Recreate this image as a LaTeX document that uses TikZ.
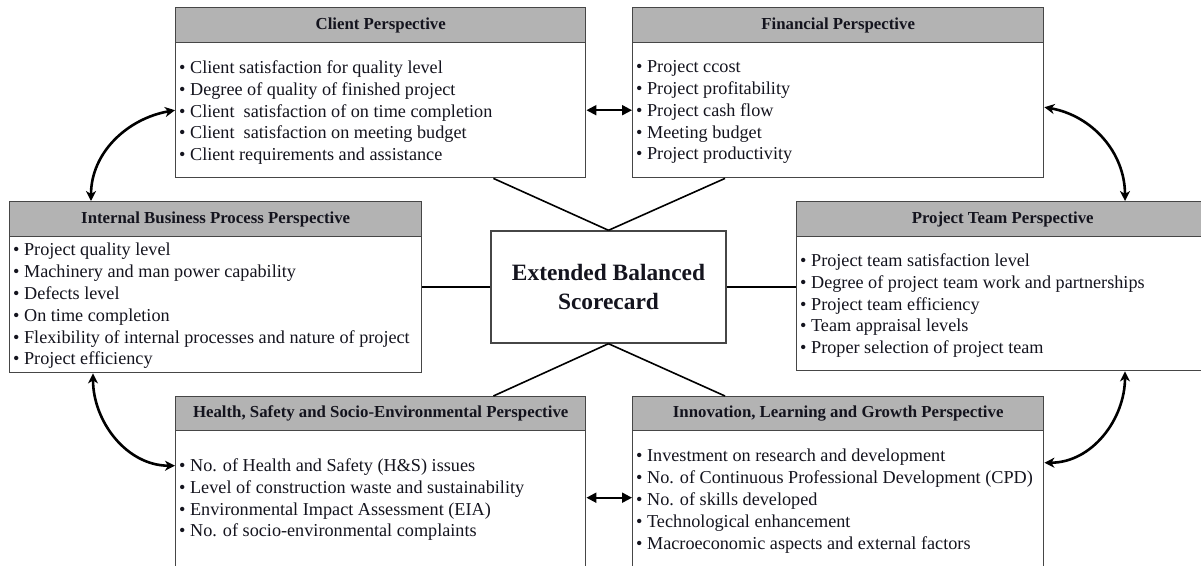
\documentclass[tikz,border=0pt]{standalone}
\usepackage{fontspec}
\setmainfont{Liberation Serif}
\usetikzlibrary{arrows.meta}
\definecolor{hdrgray}{RGB}{179,179,179}
\definecolor{edgegray}{RGB}{70,70,70}
\definecolor{inktext}{RGB}{20,20,30}
\tikzset{
  hdr/.style={draw=edgegray, line width=1.4pt, fill=hdrgray, anchor=north west, inner sep=0pt,
    font=\fontsize{16.8}{18}\selectfont\bfseries, text=inktext},
  bodybox/.style={draw=edgegray, line width=1.4pt, fill=white, anchor=north west, inner sep=0pt},
  items/.style={anchor=north west, inner sep=0pt, align=left, text=inktext,
    font=\fontsize{18.2}{21.8}\selectfont},
  hub/.style={draw=edgegray, line width=1.4pt, fill=white, inner sep=0pt, align=center,
    minimum width=235pt, minimum height=112pt, font=\fontsize{23.4}{29}\selectfont\bfseries, text=inktext},
  link/.style={line width=1.6pt, black},
  loop/.style={line width=2.6pt, black, {Stealth[length=10pt,width=10pt,inset=3pt]}-{Stealth[length=10pt,width=10pt,inset=3pt]}},
  pair/.style={line width=2pt, black, {Triangle[length=10pt,width=10pt]}-{Triangle[length=10pt,width=10pt]}}
}
\begin{document}
\begin{tikzpicture}[x=1pt,y=1pt]
\useasboundingbox (0,0) rectangle (1201,-565);
\clip (0,0) rectangle (1201,-565);
\fill[white] (0,0) rectangle (1201,-565);

% Client perspective
\node[bodybox, minimum width=410pt, minimum height=135pt] (client) at (175,-42) {};
\node[hdr, minimum width=410pt, minimum height=35pt] (clientH) at (175,-7) {Client Perspective};
\node[items] (clientT) at (179,-60.5) {%
• Client satisfaction for quality level\\
• Degree of quality of finished project\\
• Client~ satisfaction of on time completion\\
• Client~ satisfaction on meeting budget\\
• Client requirements and assistance};

% Financial perspective
\node[bodybox, minimum width=411pt, minimum height=135pt] (fin) at (632,-42) {};
\node[hdr, minimum width=411pt, minimum height=35pt] (finH) at (632,-7) {Financial Perspective};
\node[items] (finT) at (636,-60.5) {%
• Project ccost\\
• Project profitability\\
• Project cash flow\\
• Meeting budget\\
• Project productivity};

% Internal business process perspective
\node[bodybox, minimum width=412pt, minimum height=136pt] (intl) at (9,-236) {};
\node[hdr, minimum width=412pt, minimum height=35pt] (intlH) at (9,-201) {Internal Business Process Perspective};
\node[items] (intlT) at (13,-243) {%
• Project quality level\\
• Machinery and man power capability\\
• Defects level\\
• On time completion\\
• Flexibility of internal processes and nature of project\\
• Project efficiency};

% Project team perspective (runs past the right edge)
\node[bodybox, minimum width=412pt, minimum height=134pt] (team) at (796,-236) {};
\node[hdr, minimum width=412pt, minimum height=35pt] (teamH) at (796,-201) {Project Team Perspective};
\node[items] (teamT) at (800,-253.5) {%
• Project team satisfaction level\\
• Degree of project team work and partnerships\\
• Project team efficiency\\
• Team appraisal levels\\
• Proper selection of project team};

% Health, safety and socio-environmental perspective (runs past the bottom edge)
\node[bodybox, minimum width=410pt, minimum height=150pt] (hse) at (175,-430) {};
\node[hdr, minimum width=410pt, minimum height=34pt] (hseH) at (175,-396) {Health, Safety and Socio-Environmental Perspective};
\node[items] (hseT) at (179,-458.5) {%
• No. of Health and Safety (H\&S) issues\\
• Level of construction waste and sustainability\\
• Environmental Impact Assessment (EIA)\\
• No. of socio-environmental complaints};

% Innovation, learning and growth perspective (runs past the bottom edge)
\node[bodybox, minimum width=411pt, minimum height=150pt] (inno) at (632,-430) {};
\node[hdr, minimum width=411pt, minimum height=34pt] (innoH) at (632,-396) {Innovation, Learning and Growth Perspective};
\node[items] (innoT) at (636,-449) {%
• Investment on research and development\\
• No. of Continuous Professional Development (CPD)\\
• No. of skills developed\\
• Technological enhancement\\
• Macroeconomic aspects and external factors};

% Central hub
\node[hub] (hub) at (608.5,-287) {Extended Balanced\\Scorecard};

% Spokes to the hub
\draw[link] ([xshift=-93pt]client.south east) -- (hub.north);
\draw[link] ([xshift=93pt]fin.south west) -- (hub.north);
\draw[link] (hub.south) -- ([xshift=-93pt]hseH.north east);
\draw[link] (hub.south) -- ([xshift=93pt]innoH.north west);
\draw[link] (hub.west) -- (hub.west -| intl.east);
\draw[link] (hub.east) -- (hub.east -| team.west);

% Links between neighbouring perspectives
\draw[pair] (client.east) -- (client.east -| fin.west);
\draw[pair] ([yshift=8pt]hse.east) -- ([yshift=8pt]hse.east -| inno.west);
\draw[loop] (client.west) to[out=190,in=90] ([xshift=82pt]intlH.north west);
\draw[loop] ([yshift=3pt]fin.east) to[out=-10,in=90] ([xshift=329pt]teamH.north west);
\draw[loop] ([xshift=84pt]intl.south west) to[out=-90,in=180] ([yshift=40pt]hse.west);
\draw[loop] ([xshift=329pt]team.south west) to[out=-90,in=0] ([yshift=43pt]inno.east);
\end{tikzpicture}
\end{document}
